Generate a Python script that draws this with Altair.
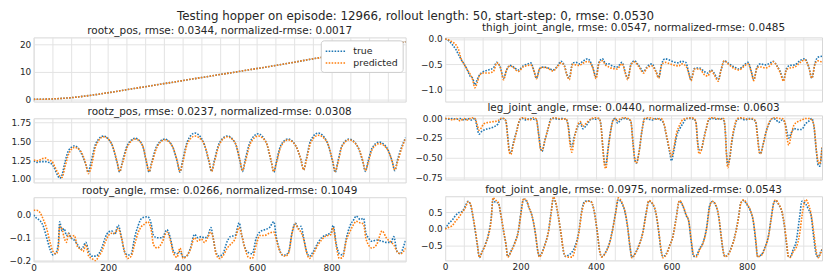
import altair as alt
import pandas as pd

# ---------------- data ----------------
MAIN_TITLE = "Testing hopper on episode: 12966, rollout length: 50, start-step: 0, rmse: 0.0530"
SERIES = ["true", "predicted"]

rootx_title = "rootx_pos, rmse: 0.0344, normalized-rmse: 0.0017"
rootx_t = [0, 50, 100, 150, 200, 250, 300, 350, 400, 450, 500, 550, 600, 650, 700, 750, 800, 850, 900, 950, 999]
rootx_true = [0.0, 0.15, 0.6, 1.4, 2.4, 3.5, 4.6, 5.7, 6.8, 7.9, 9.0, 10.1, 11.2, 12.3, 13.5, 14.7, 15.9, 17.1, 18.4, 19.6, 20.9]
rootx_pred = [0.0, 0.15, 0.6, 1.4, 2.4, 3.5, 4.6, 5.7, 6.8, 7.9, 9.0, 10.1, 11.2, 12.3, 13.5, 14.7, 15.8, 17.0, 18.3, 19.6, 20.9]

rootz_title = "rootz_pos, rmse: 0.0237, normalized-rmse: 0.0308"
rootz_t = [0, 10, 20, 30, 40, 48, 56, 64, 70, 76,
           84, 94, 110, 126, 140, 147, 153,
           167, 188, 209, 224, 231, 238,
           252, 273, 292, 303, 310, 317,
           331, 352, 372, 386, 393, 400,
           413, 433, 455, 471, 478, 485,
           499, 520, 541, 554, 561, 568,
           582, 603, 624, 638, 645, 652,
           664, 683, 704, 718, 725, 732,
           744, 764, 787, 803, 810, 817,
           828, 847, 869, 884, 891, 898,
           909, 928, 949, 963, 970, 977,
           988, 999]
rootz_true = [1.24, 1.22, 1.23, 1.23, 1.22, 1.20, 1.14, 1.05, 1.01, 1.05,
              1.22, 1.38, 1.44, 1.36, 1.19, 1.09, 1.20,
              1.47, 1.57, 1.47, 1.22, 1.09, 1.22,
              1.45, 1.54, 1.45, 1.22, 1.09, 1.22,
              1.44, 1.53, 1.44, 1.22, 1.09, 1.24,
              1.50, 1.61, 1.50, 1.23, 1.10, 1.24,
              1.48, 1.57, 1.48, 1.24, 1.10, 1.25,
              1.50, 1.60, 1.49, 1.23, 1.09, 1.23,
              1.45, 1.53, 1.44, 1.25, 1.12, 1.26,
              1.51, 1.61, 1.50, 1.23, 1.09, 1.23,
              1.44, 1.53, 1.44, 1.23, 1.10, 1.23,
              1.41, 1.49, 1.41, 1.23, 1.11, 1.25,
              1.42, 1.55]
rootz_pred = [1.25, 1.24, 1.26, 1.28, 1.25, 1.24, 1.17, 1.09, 1.04, 1.02,
              1.16, 1.33, 1.42, 1.37, 1.20, 1.07, 1.13,
              1.44, 1.56, 1.47, 1.23, 1.10, 1.20,
              1.43, 1.53, 1.45, 1.23, 1.10, 1.20,
              1.42, 1.52, 1.44, 1.23, 1.10, 1.21,
              1.47, 1.57, 1.49, 1.24, 1.10, 1.22,
              1.46, 1.56, 1.48, 1.25, 1.11, 1.22,
              1.47, 1.57, 1.49, 1.24, 1.10, 1.21,
              1.43, 1.52, 1.44, 1.25, 1.12, 1.24,
              1.48, 1.58, 1.50, 1.24, 1.10, 1.21,
              1.43, 1.52, 1.44, 1.24, 1.11, 1.21,
              1.39, 1.47, 1.40, 1.23, 1.12, 1.22,
              1.40, 1.54]

rooty_title = "rooty_angle, rmse: 0.0266, normalized-rmse: 0.1049"
rooty_t = [0, 8, 17, 26, 35, 44, 52, 60, 66, 70,
           76, 82, 88, 94, 100, 109, 118, 127, 133, 140,
           148, 156, 166, 175, 183, 192, 201, 210, 218, 227,
           236, 244, 253, 262, 271, 280, 290, 298, 306, 315,
           322, 332, 345, 358, 367, 376, 385, 393, 402, 411,
           421, 432, 441, 450, 459, 467, 476, 482, 489, 498,
           508, 520, 528, 541, 552, 559, 568, 577, 587, 598,
           607, 620, 633, 645, 652, 659, 668, 676, 685, 694,
           703, 712, 718, 725, 734, 741, 751, 764, 773, 782,
           790, 799, 804, 813, 821, 830, 840, 849, 860, 866,
           877, 886, 892, 899, 908, 921, 936, 947, 960, 967,
           976, 985, 993, 999]
rooty_true = [0.0, -0.015, -0.025, -0.05, -0.10, -0.15, -0.175, -0.165, -0.13, -0.03,
              -0.07, -0.06, -0.09, -0.08, -0.10, -0.11, -0.13, -0.15, -0.14, -0.12,
              -0.16, -0.18, -0.18, -0.17, -0.145, -0.10, -0.075, -0.07, -0.085, -0.045,
              -0.10, -0.16, -0.175, -0.17, -0.10, -0.05, -0.015, -0.01, -0.008, -0.035,
              -0.09, -0.10, -0.10, -0.065, -0.10, -0.16, -0.17, -0.16, -0.185, -0.18,
              -0.145, -0.085, -0.10, -0.095, -0.10, -0.095, -0.055, -0.10, -0.16, -0.18,
              -0.17, -0.115, -0.095, -0.09, -0.035, -0.09, -0.145, -0.165, -0.17, -0.10,
              -0.075, -0.065, -0.056, -0.03, -0.10, -0.145, -0.175, -0.175, -0.16, -0.077,
              -0.036, -0.06, -0.05, -0.10, -0.165, -0.18, -0.16, -0.12, -0.10, -0.09,
              -0.085, -0.076, -0.046, -0.13, -0.17, -0.175, -0.10, -0.05, -0.02, -0.005,
              -0.02, -0.015, -0.077, -0.10, -0.115, -0.11, -0.115, -0.12, -0.12, -0.095,
              -0.16, -0.17, -0.14, -0.11]
rooty_pred = [0.02, 0.02, 0.01, -0.02, -0.06, -0.12, -0.16, -0.17, -0.15, -0.05,
              -0.06, -0.10, -0.12, -0.08, -0.10, -0.09, -0.14, -0.15, -0.16, -0.13,
              -0.18, -0.19, -0.20, -0.18, -0.16, -0.12, -0.09, -0.08, -0.08, -0.06,
              -0.10, -0.16, -0.19, -0.18, -0.13, -0.08, -0.05, -0.04, -0.03, -0.06,
              -0.13, -0.145, -0.12, -0.075, -0.11, -0.17, -0.185, -0.145, -0.19, -0.18,
              -0.15, -0.10, -0.115, -0.105, -0.12, -0.10, -0.075, -0.10, -0.165, -0.19,
              -0.18, -0.145, -0.13, -0.105, -0.055, -0.09, -0.15, -0.185, -0.19, -0.13,
              -0.09, -0.09, -0.08, -0.075, -0.11, -0.15, -0.175, -0.18, -0.165, -0.08,
              -0.04, -0.065, -0.075, -0.105, -0.17, -0.19, -0.17, -0.13, -0.11, -0.095,
              -0.09, -0.085, -0.055, -0.14, -0.19, -0.185, -0.11, -0.075, -0.04, -0.028,
              -0.035, -0.04, -0.10, -0.13, -0.145, -0.13, -0.07, -0.10, -0.12, -0.13,
              -0.16, -0.17, -0.16, -0.145]

thigh_title = "thigh_joint_angle, rmse: 0.0547, normalized-rmse: 0.0485"
thigh_t = [0, 10, 19, 28, 35, 44, 50, 59, 67, 73,
           79, 85, 92, 102, 115, 128, 137, 146, 155, 163,
           172, 181, 194, 207, 220, 227, 236, 242, 251, 260,
           273, 286, 299, 307, 316, 323, 329, 338, 347, 356,
           365, 378, 391, 400, 408, 417, 426, 434, 443, 456,
           469, 478, 484, 493, 502, 513, 526, 535, 548, 559,
           566, 574, 583, 596, 609, 620, 626, 638, 646, 652,
           661, 674, 687, 696, 705, 713, 724, 731, 740, 753,
           766, 779, 792, 803, 812, 818, 827, 836, 849, 862,
           870, 879, 888, 897, 905, 914, 927, 940, 953, 964,
           972, 981, 988, 999]
thigh_true = [0.0, -0.04, -0.11, -0.20, -0.30, -0.42, -0.49, -0.61, -0.74, -0.77,
              -0.90, -0.80, -0.70, -0.64, -0.61, -0.57, -0.46, -0.55, -0.77, -0.61,
              -0.52, -0.55, -0.61, -0.53, -0.49, -0.47, -0.64, -0.77, -0.58, -0.55,
              -0.57, -0.61, -0.52, -0.44, -0.52, -0.70, -0.77, -0.47, -0.46, -0.49,
              -0.44, -0.39, -0.55, -0.74, -0.46, -0.39, -0.49, -0.49, -0.53, -0.55,
              -0.46, -0.67, -0.77, -0.49, -0.43, -0.52, -0.64, -0.55, -0.49, -0.64,
              -0.76, -0.49, -0.39, -0.42, -0.46, -0.47, -0.44, -0.46, -0.67, -0.80,
              -0.58, -0.57, -0.64, -0.67, -0.61, -0.67, -0.80, -0.62, -0.43, -0.49,
              -0.55, -0.59, -0.52, -0.46, -0.65, -0.80, -0.55, -0.49, -0.51, -0.47,
              -0.44, -0.52, -0.64, -0.80, -0.58, -0.52, -0.51, -0.43, -0.39, -0.55,
              -0.77, -0.46, -0.36, -0.34]
thigh_pred = [0.0, -0.02, -0.06, -0.11, -0.20, -0.42, -0.49, -0.61, -0.70, -0.80,
              -0.96, -0.86, -0.70, -0.67, -0.67, -0.64, -0.47, -0.55, -0.80, -0.61,
              -0.53, -0.56, -0.64, -0.55, -0.52, -0.51, -0.64, -0.78, -0.58, -0.56,
              -0.58, -0.63, -0.53, -0.47, -0.53, -0.71, -0.80, -0.50, -0.51, -0.52,
              -0.48, -0.44, -0.56, -0.78, -0.47, -0.43, -0.52, -0.55, -0.58, -0.59,
              -0.49, -0.68, -0.80, -0.50, -0.45, -0.54, -0.67, -0.57, -0.53, -0.65,
              -0.77, -0.51, -0.46, -0.49, -0.52, -0.53, -0.49, -0.53, -0.68, -0.82,
              -0.59, -0.59, -0.70, -0.73, -0.62, -0.70, -0.83, -0.62, -0.43, -0.51,
              -0.58, -0.61, -0.54, -0.49, -0.66, -0.82, -0.56, -0.55, -0.57, -0.52,
              -0.45, -0.53, -0.66, -0.83, -0.60, -0.57, -0.55, -0.47, -0.41, -0.56,
              -0.77, -0.48, -0.43, -0.46]

leg_title = "leg_joint_angle, rmse: 0.0440, normalized-rmse: 0.0603"
leg_t = [0, 10, 20, 30, 40, 50, 60, 70, 79, 85,
         90, 96, 102, 115, 128, 140, 147, 155, 161, 166,
         170, 174, 181, 190, 198, 205, 215, 225, 235, 242,
         248, 253, 257, 264, 273, 281, 290, 300, 310, 320,
         326, 332, 336, 342, 351, 358, 365, 374, 383, 388,
         398, 408, 413, 418, 422, 426, 432, 439, 446, 452,
         457, 465, 475, 485, 492, 498, 503, 507, 514, 522,
         529, 540, 550, 560, 572, 579, 587, 596, 600, 606,
         614, 622, 631, 640, 650, 660, 665, 669, 673, 678,
         685, 692, 700, 710, 720, 730, 738, 742, 746, 749,
         754, 760, 767, 775, 785, 795, 805, 815, 823, 828,
         833, 836, 843, 852, 860, 867, 876, 884, 893, 900,
         906, 911, 917, 925, 935, 945, 955, 965, 972, 978,
         984, 989, 993, 999]
leg_true = [0.0, -0.01, 0.0, -0.01, 0.0, -0.02, 0.0, -0.02, 0.0, -0.12,
            -0.20, -0.17, -0.15, -0.13, -0.11, -0.07, -0.01, 0.0, -0.03, -0.23,
            -0.40, -0.44, -0.31, -0.15, -0.02, 0.0, -0.02, 0.0, -0.01, -0.02,
            -0.20, -0.38, -0.42, -0.29, -0.13, 0.0, 0.0, -0.01, 0.0, -0.01,
            -0.08, -0.31, -0.36, -0.24, -0.11, -0.05, -0.13, -0.09, -0.03, 0.0,
            -0.01, 0.0, -0.08, -0.36, -0.55, -0.59, -0.38, -0.15, -0.01, 0.0,
            -0.06, -0.02, 0.0, -0.01, -0.03, -0.31, -0.53, -0.57, -0.43, -0.15,
            0.0, -0.01, -0.02, 0.0, -0.02, -0.06, -0.23, -0.45, -0.54, -0.42,
            -0.22, -0.13, -0.06, 0.0, 0.0, -0.01, -0.05, -0.28, -0.40, -0.41,
            -0.27, -0.13, -0.01, 0.0, -0.01, 0.0, -0.02, -0.12, -0.45, -0.59,
            -0.52, -0.30, -0.12, -0.01, 0.0, -0.02, 0.0, -0.01, -0.04, -0.22,
            -0.42, -0.45, -0.33, -0.15, -0.05, 0.0, -0.01, -0.05, -0.02, -0.04,
            -0.17, -0.25, -0.19, -0.13, -0.14, -0.14, -0.07, -0.03, 0.0, -0.12,
            -0.42, -0.60, -0.61, -0.37]
leg_pred = [0.0, 0.0, -0.02, 0.0, -0.03, 0.0, -0.02, 0.01, 0.0, -0.08,
            -0.15, -0.12, -0.07, -0.05, -0.04, -0.03, 0.0, 0.0, -0.03, -0.25,
            -0.43, -0.46, -0.33, -0.16, -0.01, 0.01, 0.0, -0.02, 0.01, -0.01,
            -0.21, -0.39, -0.41, -0.29, -0.13, -0.01, 0.01, 0.0, -0.01, 0.0,
            -0.10, -0.36, -0.43, -0.27, -0.09, -0.04, -0.10, -0.06, -0.02, 0.0,
            0.01, 0.0, -0.09, -0.38, -0.58, -0.64, -0.40, -0.16, -0.02, 0.0,
            -0.03, 0.0, 0.01, 0.0, -0.03, -0.32, -0.53, -0.57, -0.43, -0.15,
            0.0, 0.01, 0.0, -0.01, 0.0, -0.05, -0.22, -0.42, -0.49, -0.38,
            -0.18, -0.08, -0.01, 0.0, 0.01, 0.0, -0.06, -0.30, -0.45, -0.42,
            -0.28, -0.13, 0.0, 0.01, 0.0, -0.01, 0.0, -0.12, -0.48, -0.63,
            -0.52, -0.28, -0.10, 0.0, 0.01, 0.0, -0.01, 0.0, -0.04, -0.24,
            -0.44, -0.45, -0.33, -0.15, -0.04, 0.0, 0.01, 0.0, 0.0, -0.04,
            -0.24, -0.34, -0.22, -0.08, -0.04, -0.02, 0.0, 0.0, -0.02, -0.10,
            -0.40, -0.56, -0.58, -0.37]

foot_title = "foot_joint_angle, rmse: 0.0975, normalized-rmse: 0.0543"
foot_t = [0, 10, 19, 28, 37, 45, 54, 61, 67, 76,
          85, 91, 98, 107, 115, 122, 127, 133, 141, 148,
          155, 161, 166, 176, 185, 194, 201, 208, 216, 222,
          230, 239, 246, 250, 256, 265, 274, 281, 287, 292,
          301, 308, 314, 319, 328, 337, 345, 354, 363, 370,
          378, 386, 394, 403, 410, 415, 426, 435, 443, 452,
          459, 470, 477, 484, 490, 495, 506, 515, 524, 533,
          540, 550, 559, 566, 573, 577, 586, 595, 604, 612,
          621, 630, 639, 646, 652, 659, 666, 675, 684, 693,
          701, 708, 717, 726, 732, 738, 742, 751, 759, 768,
          777, 784, 791, 800, 809, 817, 824, 828, 838, 848,
          857, 864, 871, 876, 884, 893, 899, 905, 910, 915,
          922, 931, 939, 946, 952, 956, 963, 970, 977, 984,
          989, 994, 999]
foot_true = [0.0, 0.17, 0.27, 0.41, 0.50, 0.53, 0.70, 0.84, 0.74, 0.22,
             -0.45, -0.86, -0.69, -0.45, -0.16, 0.31, 0.89, 0.81, 0.79, 0.41,
             -0.07, -0.45, -0.83, -0.64, -0.40, -0.07, 0.50, 0.90, 0.84, 0.65,
             0.41, -0.11, -0.69, -0.83, -0.73, -0.45, -0.07, 0.50, 0.93, 0.83,
             0.31, -0.21, -0.69, -0.83, -0.78, -0.69, -0.50, -0.11, 0.60, 0.84,
             0.85, 0.83, 0.60, -0.07, -0.69, -0.83, -0.69, -0.45, -0.07, 0.50,
             0.89, 0.74, 0.50, 0.03, -0.54, -0.85, -0.69, -0.45, -0.11, 0.50,
             0.84, 0.75, 0.46, -0.07, -0.69, -0.83, -0.75, -0.50, -0.21, 0.31,
             0.84, 0.70, 0.41, 0.22, -0.35, -0.83, -0.80, -0.59, -0.40, 0.03,
             0.70, 0.83, 0.72, 0.31, -0.26, -0.73, -0.83, -0.75, -0.55, -0.21,
             0.31, 0.79, 0.86, 0.74, 0.55, 0.22, -0.45, -0.83, -0.78, -0.55,
             -0.21, 0.31, 0.79, 0.86, 0.74, 0.50, 0.12, -0.45, -0.83, -0.83,
             -0.64, -0.35, 0.31, 0.84, 0.80, 0.75, 0.60, 0.41, -0.26, -0.78,
             -0.85, -0.73, -0.62]
foot_pred = [0.0, 0.05, 0.10, 0.24, 0.36, 0.50, 0.65, 0.82, 0.76, 0.25,
             -0.42, -0.86, -0.70, -0.47, -0.18, 0.25, 0.95, 0.88, 0.80, 0.42,
             -0.05, -0.45, -0.85, -0.66, -0.42, -0.08, 0.45, 0.92, 0.86, 0.66,
             0.42, -0.10, -0.68, -0.85, -0.75, -0.47, -0.08, 0.47, 0.97, 0.86,
             0.33, -0.20, -0.68, -0.82, -0.85, -0.85, -0.59, -0.15, 0.55, 0.80,
             0.84, 0.84, 0.60, -0.05, -0.68, -0.85, -0.70, -0.47, -0.08, 0.48,
             0.94, 0.77, 0.52, 0.05, -0.52, -0.87, -0.70, -0.47, -0.12, 0.47,
             0.86, 0.77, 0.48, -0.05, -0.66, -0.87, -0.78, -0.52, -0.22, 0.28,
             0.86, 0.72, 0.43, 0.22, -0.30, -0.80, -0.84, -0.62, -0.42, 0.0,
             0.65, 0.84, 0.74, 0.33, -0.24, -0.72, -0.84, -0.77, -0.57, -0.23,
             0.28, 0.78, 0.88, 0.76, 0.57, 0.24, -0.40, -0.84, -0.80, -0.57,
             -0.23, 0.28, 0.78, 0.88, 0.76, 0.52, 0.15, -0.40, -0.84, -0.86,
             -0.70, -0.55, -0.20, 0.40, 0.80, 0.89, 0.75, 0.45, -0.10, -0.70,
             -0.87, -0.78, -0.62]

# y-axis ranges / ticks
rootx_dom, rootx_ticks = [-0.8, 22.5], [0, 10, 20]
rootz_dom, rootz_ticks = [0.953, 1.806], [1.0, 1.25, 1.5, 1.75]
rooty_dom, rooty_ticks = [-0.203, 0.077], [-0.2, -0.1, 0.0]
thigh_dom, thigh_ticks = [-1.23, 0.03], [-1.0, -0.5, 0.0]
leg_dom, leg_ticks = [-0.78, 0.04], [-0.75, -0.5, -0.25, 0.0]
foot_dom, foot_ticks = [-0.95, 0.99], [-0.5, 0.0, 0.5]
x_grid = list(range(0, 1000, 50))

# ---------------- styling ----------------
FONT = "DejaVu Sans"
TXT = "#262626"
GRID = "#e3e3e3"
COLORS = ["#1f77b4", "#ff7f0e"]
W_L, W_R, H = 377, 382, 65
EXT_L, EXT_R = 23, 31
# legend sample: a short horizontal line drawn as a wide custom symbol
LEGEND_LINE = "M-1,0H2.5"


def panel(t, tv, pv, title, dom, ticks, fmt, bottom, width, ext, legend=False):
    df = pd.DataFrame({
        "t": list(t) + list(t),
        "v": list(tv) + list(pv),
        "series": [SERIES[0]] * len(t) + [SERIES[1]] * len(t),
    })
    leg = None
    if legend:
        leg = alt.Legend(
            title=None, orient="top-right", offset=3, padding=4,
            fillColor="white", strokeColor="#cccccc", cornerRadius=3,
            symbolType=LEGEND_LINE, symbolSize=144, symbolStrokeWidth=1.6,
            symbolDash=[1.6, 1.4], labelFontSize=9.5, labelFont=FONT,
            labelColor=TXT, labelOffset=15, rowPadding=0,
        )
    xaxis = alt.Axis(
        values=x_grid, labels=bottom, ticks=False, domain=False, grid=True,
        title=None, labelExpr="datum.value % 200 === 0 ? datum.label : ''",
        labelFlush=False, labelPadding=2, labelOverlap=False,
        minExtent=0,
    )
    yaxis = alt.Axis(
        values=ticks, format=fmt, ticks=False, domain=False, grid=True,
        title=None, minExtent=ext, maxExtent=ext, labelPadding=3,
        labelOverlap=False,
    )
    base = alt.Chart(df).mark_line(
        strokeWidth=1.6, strokeDash=[1.6, 1.4], interpolate="monotone", clip=True
    ).encode(
        x=alt.X("t:Q", scale=alt.Scale(domain=[0, 999], nice=False, zero=False), axis=xaxis),
        y=alt.Y("v:Q", scale=alt.Scale(domain=dom, nice=False, zero=False), axis=yaxis),
        color=alt.Color("series:N", scale=alt.Scale(domain=SERIES, range=COLORS), legend=leg),
    )
    true_l = base.transform_filter(alt.datum.series == SERIES[0])
    pred_l = base.transform_filter(alt.datum.series == SERIES[1])
    return alt.layer(true_l, pred_l).properties(
        width=width, height=H,
        title=alt.TitleParams(title, fontSize=10.6, font=FONT, color=TXT,
                              fontWeight="normal", anchor="middle", frame="group", offset=1),
    )


p1 = panel(rootx_t, rootx_true, rootx_pred, rootx_title, rootx_dom, rootx_ticks, "d", False, W_L, EXT_L, legend=True)
p2 = panel(rootz_t, rootz_true, rootz_pred, rootz_title, rootz_dom, rootz_ticks, ".2f", False, W_L, EXT_L)
p3 = panel(rooty_t, rooty_true, rooty_pred, rooty_title, rooty_dom, rooty_ticks, ".1f", True, W_L, EXT_L)
p4 = panel(thigh_t, thigh_true, thigh_pred, thigh_title, thigh_dom, thigh_ticks, ".1f", False, W_R, EXT_R)
p5 = panel(leg_t, leg_true, leg_pred, leg_title, leg_dom, leg_ticks, ".2f", False, W_R, EXT_R)
p6 = panel(foot_t, foot_true, foot_pred, foot_title, foot_dom, foot_ticks, ".1f", True, W_R, EXT_R)


def column(*charts):
    return alt.vconcat(*charts, spacing=0).resolve_scale(
        y="independent", color="independent"
    ).resolve_legend(color="independent")


chart = alt.hconcat(column(p1, p2, p3), column(p4, p5, p6), spacing=7).resolve_scale(
    y="independent", color="independent"
).resolve_legend(color="independent").properties(
    title=alt.TitleParams(MAIN_TITLE, fontSize=12, font=FONT, color=TXT,
                          fontWeight="normal", anchor="middle", offset=0),
    padding=0,
).configure_view(
    stroke="#d6d6d6", strokeWidth=1
).configure_axis(
    labelFont=FONT, labelFontSize=9, labelColor=TXT, gridColor=GRID, gridWidth=1
)

chart.save("out.html", embed_options={"renderer": "svg", "actions": False})
